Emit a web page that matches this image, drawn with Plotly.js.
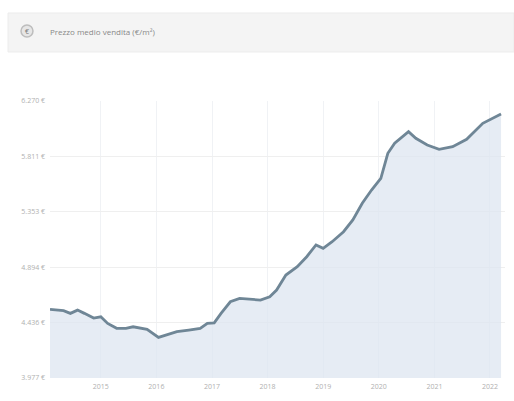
<!DOCTYPE html>
<html>
<head>
<meta charset="utf-8">
<script src="https://cdn.plot.ly/plotly-3.0.1.min.js"></script>
<style>html,body{margin:0;padding:0;background:#fff;}#chart{width:514px;height:401px;}</style>
</head>
<body>
<div id="chart"></div>
<script>
// Data (monthly average asking price, €/m²)
const dates = ['2014-02-01','2014-05-01','2014-06-15','2014-08-01','2014-09-15','2014-11-15','2015-01-01','2015-02-15','2015-04-15','2015-06-15','2015-08-01','2015-09-15','2015-11-01','2016-01-15','2016-03-01','2016-05-15','2016-08-01','2016-10-15','2016-12-01','2017-01-15','2017-03-01','2017-05-01','2017-07-01','2017-09-01','2017-11-15','2018-01-15','2018-03-01','2018-05-01','2018-07-15','2018-09-15','2018-11-15','2019-01-01','2019-03-01','2019-05-15','2019-07-15','2019-09-15','2019-11-15','2020-01-15','2020-03-01','2020-04-15','2020-06-01','2020-07-15','2020-09-01','2020-11-15','2021-02-01','2021-05-01','2021-08-01','2021-11-15','2022-03-15'];
const prices = [4545,4534,4512,4539,4512,4473,4484,4429,4388,4388,4401,4388,4380,4313,4332,4360,4374,4388,4429,4434,4512,4608,4636,4628,4622,4650,4705,4829,4898,4981,5078,5050,5105,5188,5285,5423,5533,5630,5837,5920,5974,6016,5961,5906,5870,5892,5953,6085,6162];
const yTickVals = [3977,4436,4894,5353,5811,6270];
const yTickText = ['3.977 €','4.436 €','4.894 €','5.353 €','5.811 €','6.270 €'];
const xTickVals = ['2015-01-01','2016-01-01','2017-01-01','2018-01-01','2019-01-01','2020-01-01','2021-01-01','2022-01-01'];
const xTickText = ['2015','2016','2017','2018','2019','2020','2021','2022'];
const titleText = 'Prezzo medio vendita (€/m²)';

const trace = {
  x: dates, y: prices, type: 'scatter', mode: 'lines',
  line: {color: '#6f8696', width: 2.8, shape: 'linear'},
  fill: 'tozeroy', fillcolor: 'rgba(222,230,240,0.75)',
  hoverinfo: 'skip'
};

const layout = {
  width: 514, height: 401,
  margin: {l: 50, r: 9, t: 101, b: 23},
  paper_bgcolor: '#ffffff', plot_bgcolor: '#ffffff',
  showlegend: false,
  font: {family: 'Open Sans, sans-serif', color: '#aaaaaa', size: 7},
  xaxis: {
    type: 'date', range: ['2014-02-01','2022-04-10'],
    tickvals: xTickVals, ticktext: xTickText,
    showgrid: true, gridcolor: '#f0f2f5', gridwidth: 1,
    zeroline: false, showline: false, ticks: '',
    ticklabelstandoff: 3,
    tickfont: {size: 7, color: '#b0b0b0'}, fixedrange: true
  },
  yaxis: {
    range: [3977, 6270],
    tickvals: yTickVals, ticktext: yTickText,
    showgrid: true, gridcolor: '#efefef', gridwidth: 1,
    zeroline: false, showline: false, ticks: '',
    ticklabelstandoff: 4,
    tickfont: {size: 7, color: '#b0b0b0'}, fixedrange: true
  },
  shapes: [
    {type: 'rect', xref: 'paper', yref: 'paper', x0: -0.0923, x1: 1.02, y0: 1.1769, y1: 1.3177,
     fillcolor: '#f4f4f4', line: {color: '#ececec', width: 1}, layer: 'below'},
    {type: 'circle', xref: 'paper', yref: 'paper', x0: -0.0637, x1: -0.0374, y0: 1.2310, y1: 1.2744,
     fillcolor: '#e6e6e6', line: {color: '#bdbdbd', width: 1.5}}
  ],
  annotations: [
    {text: '€', xref: 'paper', yref: 'paper', x: -0.0505, y: 1.2527, xanchor: 'center', yanchor: 'middle',
     showarrow: false, font: {size: 7, color: '#777777'}},
    {text: titleText, xref: 'paper', yref: 'paper', x: -0.0044, y: 1.2527, xanchor: 'left', yanchor: 'middle',
     showarrow: false, font: {size: 8, color: '#888888'}}
  ]
};

Plotly.newPlot('chart', [trace], layout, {displayModeBar: false, staticPlot: true});
</script>
</body>
</html>
